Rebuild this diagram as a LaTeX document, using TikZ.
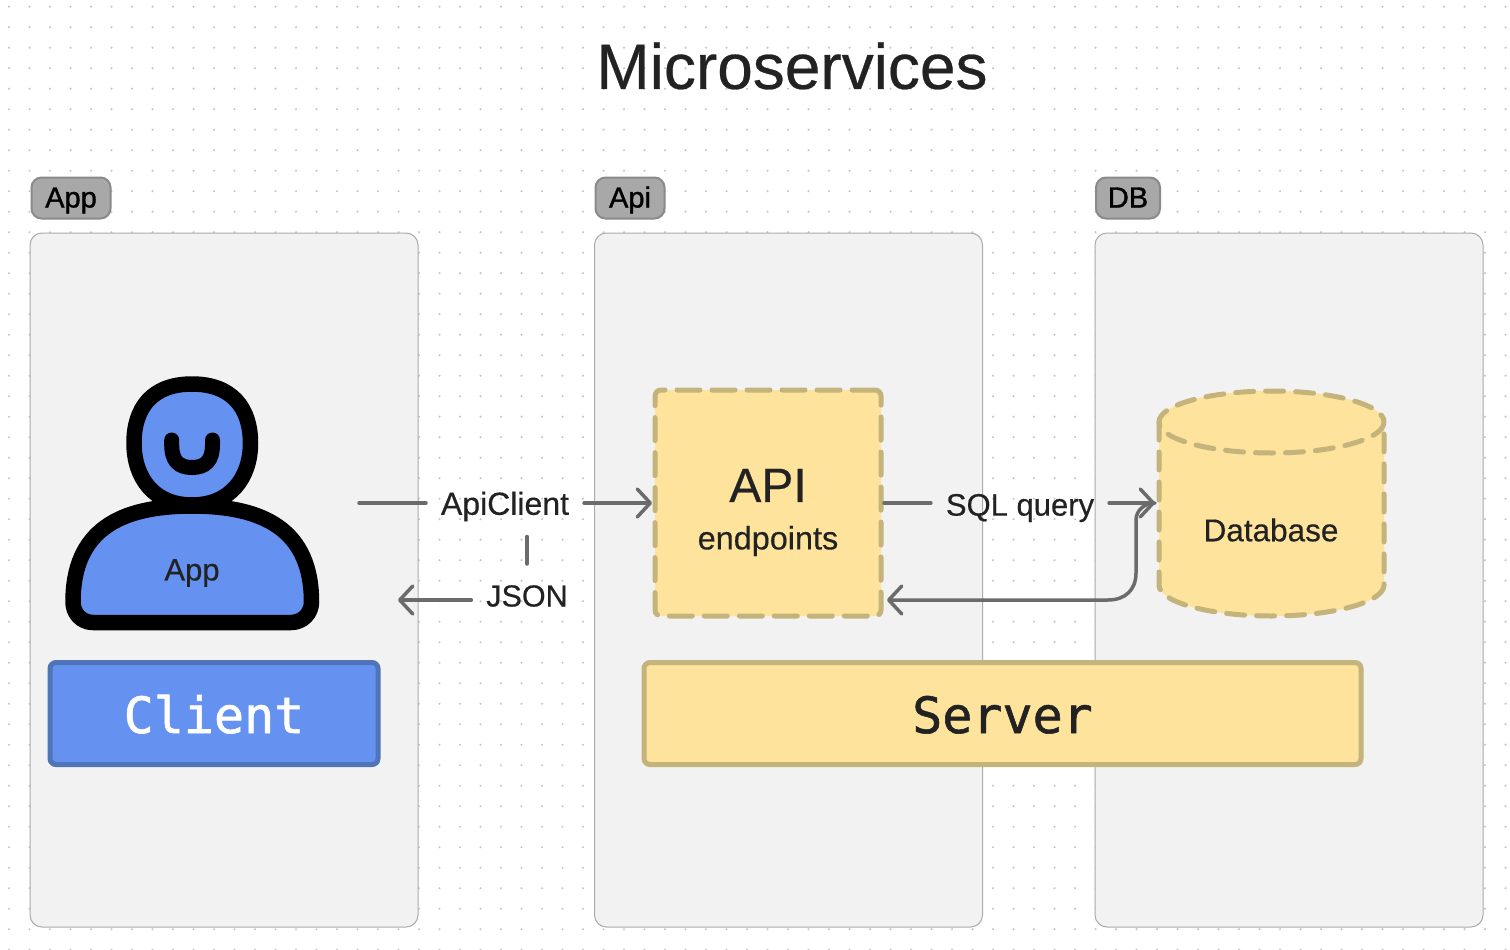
\documentclass[tikz,border=0pt]{standalone}
\usepackage{fontspec}
\setmainfont[FakeBold=0.4]{Liberation Sans}
\newfontfamily\tagface[FakeBold=1.2]{Liberation Sans}
\newfontfamily\monoface[FakeBold=1.2]{DejaVu Sans Mono}
\usetikzlibrary{arrows.meta}
\definecolor{pagedot}{HTML}{C6C6C6}
\definecolor{panelfill}{HTML}{F2F2F2}
\definecolor{panelline}{HTML}{ABABAB}
\definecolor{tagfill}{HTML}{A8A8A8}
\definecolor{tagline}{HTML}{8A8A8A}
\definecolor{bluefill}{HTML}{6592F0}
\definecolor{blueline}{HTML}{5074B8}
\definecolor{yelfill}{HTML}{FDE39B}
\definecolor{yelline}{HTML}{C4B37A}
\definecolor{conn}{HTML}{6B6B6B}
\definecolor{ink}{HTML}{222222}
\newcommand{\fs}[1]{\fontsize{#1}{#1}\selectfont}
\tikzset{
  panel/.style={draw=panelline,fill=panelfill,line width=1pt,rounded corners=12pt,minimum width=388pt,minimum height=694pt,outer sep=0pt,inner sep=0pt},
  tag/.style={draw=tagline,fill=tagfill,line width=2pt,rounded corners=10pt,minimum height=41pt,outer sep=0pt,inner sep=0pt,text=black,font=\tagface\fs{29},text height=25pt,text depth=6pt},
  barbox/.style={line width=5pt,rounded corners=6pt,minimum height=102pt,outer sep=0pt,inner sep=0pt,font=\monoface\fs{50},text height=50pt,text depth=11pt},
  dashline/.style={draw=yelline,line width=5pt,line cap=round,dash pattern=on 23pt off 12pt},
  cyldash/.style={draw=yelline,line width=5pt,line cap=round,dash pattern=on 18pt off 12pt},
  conlabel/.style={text=ink,font=\fs{31},inner ysep=0pt,inner xsep=15pt,outer sep=0pt,minimum height=64pt},
  link/.style={draw=conn,line width=3.5pt,line cap=round,line join=round},
  arrowlink/.style={link,-{Straight Barb[length=13pt,width=28pt,round]}},
  figure/.style={draw=black,line width=15.5pt,fill=bluefill,line join=round}
}
\begin{document}
\begin{tikzpicture}[x=1pt,y=-1pt]
\useasboundingbox (0,0) rectangle (1510,950);
\fill[white] (0,0) rectangle (1510,950);
\foreach \i in {0,...,73}{\foreach \j in {0,...,46}{
  \fill[pagedot] ({9+20.5*\i},{6.7+20.5*\j}) circle[radius=1.2pt];
}}
\node[font=\fs{64},text=ink] (title) at (792,66) {Microservices};

\node[panel] (apppanel) at (224,580) {};
\node[panel] (apipanel) at (788.5,580) {};
\node[panel] (dbpanel) at (1289,580) {};
\node[tag,minimum width=79pt] (apptag) at (71,198) {App};
\node[tag,minimum width=69pt] (apitag) at (630,198) {Api};
\node[tag,minimum width=64pt] (dbtag) at (1128,198) {DB};

% person
\draw[figure] (192,384) .. controls (232,384) and (250.5,408) .. (250.5,443)
  .. controls (250.5,478) and (230,505) .. (192,505)
  .. controls (154,505) and (134,478) .. (134,443)
  .. controls (134,408) and (152,384) .. (192,384) -- cycle;
\draw[figure] (93,622.5) -- (291,622.5) .. controls (303,622.5) and (311.5,613) .. (311.5,602)
  .. controls (311.5,530) and (264,506) .. (192,506)
  .. controls (120,506) and (73,530) .. (73,602)
  .. controls (73,613) and (81,622.5) .. (93,622.5) -- cycle;
\draw[black,line width=15pt,line cap=round] (171.7,440) -- (171.7,445) .. controls (171.7,460) and (178,467.5) .. (192,467.5) .. controls (206,467.5) and (212.5,460) .. (212.5,445) -- (212.5,440);
\node[font=\fs{31},text=ink] (applabel) at (192,573) {App};

\node[barbox,draw=blueline,fill=bluefill,text=white,minimum width=328pt] (client) at (214,713.5) {Client};
\node[barbox,draw=yelline,fill=yelfill,text=ink,minimum width=717pt] (server) at (1002.5,713.5) {Server};

% api box
\node[dashline,fill=yelfill,rounded corners=6pt,minimum width=226pt,minimum height=226pt,outer sep=0pt,inner sep=0pt] (apibox) at (768,503) {};
\node[text=ink,align=center,inner sep=0pt] (apilabel) at (768,512.5) {\fs{48}API\\[23pt]\fs{32.4}endpoints};

% database
\node[minimum width=225pt,minimum height=225pt,outer sep=0pt,inner sep=0pt] (db) at (1271.5,503.5) {};
\fill[yelfill] (1159,422) arc[x radius=112.5,y radius=31,start angle=180,end angle=360] -- (1384,585) arc[x radius=112.5,y radius=31,start angle=0,end angle=180] -- cycle;
\fill[yelfill] (1271.5,422) ellipse[x radius=112.5,y radius=31];
\draw[cyldash] (1271.5,422) ellipse[x radius=112.5,y radius=31];
\draw[cyldash] (1159,422) -- (1159,585) arc[x radius=112.5,y radius=-31,start angle=180,end angle=360] -- (1384,422);
\node[font=\fs{31.5},text=ink] (dblabel) at (1271,530) {Database};

% connectors
\coordinate (appout) at (359,503);
\coordinate (appin) at (398,600);
\node[conlabel,font=\fs{32}] (apiclient) at (505,506.5) {ApiClient};
\node[conlabel,font=\fs{30.5}] (json) at (527,596) {JSON};
\node[conlabel] (sql) at (1020,508) {SQL query};
\draw[link] (appout) -- (apiclient.west |- appout);
\draw[arrowlink] (apiclient.east |- appout) -- ([xshift=-3pt]apibox.west |- appout);
\draw[link] ([yshift=2pt]apiclient.south -| json.north) -- (json.north);
\draw[arrowlink] (json.west |- appin) -- (appin);
\draw[link] ([xshift=3pt]apibox.east |- appout) -- (sql.west |- appout);
\draw[arrowlink] (sql.east |- appout) -- ([xshift=-4pt]db.west |- appout);
\draw[arrowlink] ([xshift=-4pt]db.west |- appout) .. controls (1145,503) and (1136,510) .. (1136,520) -- (1136,573) .. controls (1136,590) and (1125,600) .. (1108,600) -- ([xshift=6pt]apibox.east |- appin);
\end{tikzpicture}
\end{document}
